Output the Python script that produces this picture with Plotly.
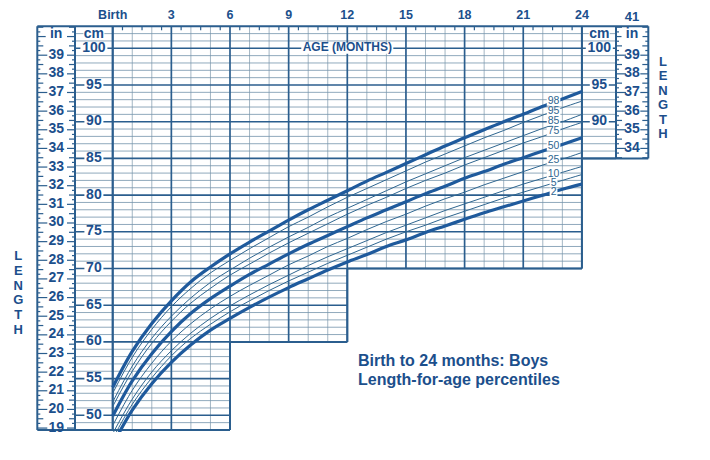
import plotly.graph_objects as go

# ---------------- data ----------------
months = list(range(25))
percentile_labels = ["98", "95", "85", "75", "50", "25", "10", "5", "2"]
p98 = [53.8, 58.7, 62.5, 65.6, 68.2, 70.2, 72.0, 73.6, 75.1, 76.6, 78.0, 79.3, 80.6, 81.9, 83.1, 84.3, 85.5, 86.7, 87.8, 88.9, 90.0, 91.0, 92.1, 93.1, 94.1]
p95 = [53.0, 57.9, 61.7, 64.8, 67.3, 69.4, 71.1, 72.7, 74.2, 75.7, 77.0, 78.4, 79.7, 80.9, 82.1, 83.3, 84.5, 85.6, 86.7, 87.8, 88.8, 89.9, 90.9, 91.9, 92.8]
p85 = [51.8, 56.7, 60.5, 63.5, 66.0, 68.1, 69.8, 71.4, 72.9, 74.3, 75.6, 77.0, 78.2, 79.4, 80.6, 81.8, 82.9, 84.0, 85.1, 86.1, 87.1, 88.1, 89.1, 90.0, 91.0]
p75 = [51.2, 56.0, 59.8, 62.8, 65.3, 67.3, 69.1, 70.6, 72.1, 73.5, 74.8, 76.1, 77.4, 78.6, 79.7, 80.9, 82.0, 83.0, 84.1, 85.1, 86.1, 87.1, 88.0, 89.0, 89.9]
p50 = [49.9, 54.7, 58.4, 61.4, 63.9, 65.9, 67.6, 69.2, 70.6, 72.0, 73.3, 74.5, 75.7, 76.9, 78.0, 79.1, 80.2, 81.2, 82.3, 83.2, 84.2, 85.1, 86.0, 86.9, 87.8]
p25 = [48.6, 53.4, 57.1, 60.1, 62.5, 64.5, 66.2, 67.7, 69.1, 70.5, 71.7, 73.0, 74.1, 75.3, 76.4, 77.4, 78.5, 79.5, 80.4, 81.4, 82.3, 83.2, 84.1, 84.9, 85.8]
p10 = [47.5, 52.2, 55.9, 58.8, 61.2, 63.2, 64.9, 66.4, 67.8, 69.1, 70.4, 71.6, 72.7, 73.8, 74.9, 75.9, 76.9, 77.9, 78.8, 79.7, 80.6, 81.5, 82.3, 83.1, 83.9]
p5 = [46.8, 51.5, 55.1, 58.1, 60.5, 62.4, 64.1, 65.6, 67.0, 68.3, 69.5, 70.7, 71.8, 72.9, 74.0, 75.0, 75.9, 76.9, 77.8, 78.7, 79.6, 80.4, 81.2, 82.0, 82.8]
p2 = [46.0, 50.7, 54.3, 57.2, 59.6, 61.6, 63.2, 64.7, 66.1, 67.4, 68.6, 69.8, 70.9, 71.9, 73.0, 73.9, 74.9, 75.8, 76.7, 77.6, 78.4, 79.2, 80.0, 80.8, 81.5]
series = [p98, p95, p85, p75, p50, p25, p10, p5, p2]
heavy_percentiles = ["98", "50", "2"]

month_ticks = [0, 3, 6, 9, 12, 15, 18, 21, 24]
month_tick_labels = ["Birth", "3", "6", "9", "12", "15", "18", "21", "24"]
cm_ticks_left = [100, 95, 90, 85, 80, 75, 70, 65, 60, 55, 50]
cm_ticks_right = [100, 95, 90]
in_ticks_left = [39, 38, 37, 36, 35, 34, 33, 32, 31, 30, 29, 28, 27, 26, 25, 24, 23, 22, 21, 20, 19]
in_ticks_right = [39, 38, 37, 36, 35, 34]
in_top_right = 41
title_lines = ["Birth to 24 months: Boys", "Length-for-age percentiles"]
axis_word = "LENGTH"

# ---------------- geometry helpers ----------------
PXM = 19.55      # px per month
X0PX = 112.7     # px of birth line
PXC = 7.34       # px per cm
Y100PX = 48.3    # px of 100 cm line
IN2CM = 2.54


def mx(px):
    return (px - X0PX) / PXM


def cy(py):
    return 100 - (py - Y100PX) / PXC


X_IN_L, X_CM_L = mx(37.3), mx(75.0)
X_CM_R, X_IN_R = mx(616.0), mx(648.3)
TOP, BOT = 103, 48

BLUE = "#2b5e8e"
TXT = "#1c4f8c"
MINOR_H = "#7393ab"
MINOR_V = "#a3b6c4"
CURVE = "#1f5a9c"
THIN = "#2f6690"
FONT = "Liberation Sans, Arial, sans-serif"

# pixel rows of the inline percentile labels (label column, spread for legibility)
PCT_LABEL_ROWS = [101.7, 111.7, 121.7, 131.7, 146.7, 160.0, 174.3, 183.3, 192.3]


def seg_trace(segs, color, width):
    xs, ys = [], []
    for x0, y0, x1, y1 in segs:
        xs += [x0, x1, None]
        ys += [y0, y1, None]
    return go.Scatter(x=xs, y=ys, mode="lines", line=dict(color=color, width=width),
                      hoverinfo="skip", showlegend=False)


def right_end(c):
    if c >= 85:
        return X_CM_R
    if c >= 70:
        return 24
    if c >= 60:
        return 12
    return 6


def seg_bottom(m):
    if m <= 6:
        return BOT
    if m <= 12:
        return 60
    return 70


fig = go.Figure()

# grid lines
minor_h, major_h, minor_v, major_v = [], [], [], []
for c in range(BOT, TOP):
    s = (X_CM_L, c, right_end(c), c)
    (major_h if c % 5 == 0 else minor_h).append(s)
for m in months:
    s = (m, seg_bottom(m), m, TOP)
    (major_v if m % 3 == 0 else minor_v).append(s)

fig.add_trace(seg_trace(minor_v, MINOR_V, 1))
fig.add_trace(seg_trace(minor_h, MINOR_H, 0.8))
fig.add_trace(seg_trace(major_v, BLUE, 1.7))
fig.add_trace(seg_trace(major_h, BLUE, 1.6))

borders = [
    (X_IN_L, BOT, X_IN_L, TOP), (X_CM_L, BOT, X_CM_L, TOP), (0, BOT, 0, TOP),
    (X_IN_L, TOP, X_IN_R, TOP), (X_IN_L, BOT, 6, BOT),
    (6, BOT, 6, 60), (6, 60, 12, 60), (12, 60, 12, 70), (12, 70, 24, 70),
    (24, 70, 24, TOP), (24, 85, X_IN_R, 85), (X_CM_R, 85, X_CM_R, TOP),
    (X_IN_R, 85, X_IN_R, TOP),
]
fig.add_trace(seg_trace(borders, BLUE, 2))

# inch column ticks + top half-month ticks
ticks = []


def inch_ticks(x0, x1, lo_cm, hi_cm):
    k0 = int(lo_cm / IN2CM * 4) + 1
    k1 = int(hi_cm / IN2CM * 4)
    for k in range(k0, k1 + 1):
        y = k / 4 * IN2CM
        if k % 4 == 0:
            ll, rl = 10, 8
        elif k % 2 == 0:
            ll, rl = 6, 6
        else:
            ll, rl = 3, 3
        ticks.append((x0, y, x0 + ll / PXM, y))
        ticks.append((x1 - rl / PXM, y, x1, y))


inch_ticks(X_IN_L, X_CM_L, BOT, TOP)
inch_ticks(X_CM_R, X_IN_R, 85, TOP)
for m in months[:-1]:
    ticks.append((m + 0.5, TOP, m + 0.5, TOP - 4 / PXC))
fig.add_trace(seg_trace(ticks, BLUE, 1.2))

# percentile curves (thin first, heavy on top)
for lab, vals in zip(percentile_labels, series):
    if lab not in heavy_percentiles:
        fig.add_trace(go.Scatter(x=months, y=vals, mode="lines", line=dict(color=THIN, width=1, shape="spline"),
                                 hoverinfo="skip", showlegend=False, name=lab))
for lab, vals in zip(percentile_labels, series):
    if lab in heavy_percentiles:
        fig.add_trace(go.Scatter(x=months, y=vals, mode="lines", line=dict(color=CURVE, width=3.2, shape="spline"),
                                 hoverinfo="skip", showlegend=False, name=lab))

# ---------------- labels ----------------
boxes_x, boxes_y = [], []


def add_box(xc, yc, wpx, hpx):
    dx, dy = wpx / 2 / PXM, hpx / 2 / PXC
    boxes_x.extend([xc - dx, xc + dx, xc + dx, xc - dx, xc - dx, None])
    boxes_y.extend([yc - dy, yc - dy, yc + dy, yc + dy, yc - dy, None])


texts = []  # (x, y, text, size, bold, color, position)

xc_cm_l, xc_cm_r = mx(93.9), mx(599.3)
xc_in_l, xc_in_r = mx(56.2), mx(632.0)

for v in cm_ticks_left:
    add_box(xc_cm_l, v, 8.0 * len(str(v)) + 3, 11)
    texts.append((xc_cm_l, v, str(v), 14, True, TXT, "middle center"))
for v in cm_ticks_right:
    add_box(xc_cm_r, v, 8.0 * len(str(v)) + 3, 11)
    texts.append((xc_cm_r, v, str(v), 14, True, TXT, "middle center"))
for v in in_ticks_left:
    texts.append((xc_in_l, v * IN2CM, str(v), 14, True, TXT, "middle center"))
for v in in_ticks_right:
    texts.append((xc_in_r, v * IN2CM, str(v), 14, True, TXT, "middle center"))
texts.append((xc_in_r, in_top_right * IN2CM, str(in_top_right), 13, True, TXT, "middle center"))

unit_y = cy(34)
for xc, word in [(xc_cm_l, "cm"), (xc_cm_r, "cm"), (xc_in_l, "in"), (xc_in_r, "in")]:
    add_box(xc, unit_y, 8.5 * len(word) + 4, 11)
    texts.append((xc, unit_y, word, 14, True, TXT, "middle center"))

for m, lab in zip(month_ticks, month_tick_labels):
    texts.append((m, cy(16), lab, 12.5, True, TXT, "middle center"))

add_box(12, 100, 92, 11)
texts.append((12, 100, "AGE (MONTHS)", 12, True, TXT, "middle center"))

lab_m = 22.55
for lab, row in zip(percentile_labels, PCT_LABEL_ROWS):
    yv = cy(row)
    add_box(lab_m, yv, 5.8 * len(lab) + 2, 8)
    texts.append((lab_m, yv, lab, 10.5, False, THIN, "middle center"))

for i, ch in enumerate(axis_word):
    texts.append((mx(18.3), cy(256.7 + 14.8 * i), ch, 13, True, TXT, "middle center"))
    texts.append((mx(663.0), cy(62.3 + 14.5 * i), ch, 13, True, TXT, "middle center"))

for i, line in enumerate(title_lines):
    texts.append((mx(358.0), cy(361.7 + 19.0 * i), line, 16, True, TXT, "middle right"))

fig.add_trace(go.Scatter(x=boxes_x, y=boxes_y, mode="lines", fill="toself", fillcolor="white",
                         line=dict(width=0, color="white"), hoverinfo="skip", showlegend=False))

# group texts by style
groups = {}
for x, y, t, size, bold, color, pos in texts:
    groups.setdefault((size, bold, color, pos), []).append((x, y, t))
for (size, bold, color, pos), items in groups.items():
    fig.add_trace(go.Scatter(
        x=[i[0] for i in items], y=[i[1] for i in items], text=[i[2] for i in items],
        mode="text", textposition=pos, cliponaxis=True,
        textfont=dict(family=FONT, size=size, color=color, weight="bold" if bold else "normal"),
        hoverinfo="skip", showlegend=False))

fig.update_layout(
    width=710, height=460,
    margin=dict(l=0, r=0, t=0, b=28),
    paper_bgcolor="white", plot_bgcolor="white",
    showlegend=False,
    xaxis=dict(range=[mx(0), mx(710)], visible=False, fixedrange=True),
    yaxis=dict(range=[cy(432), cy(0)], visible=False, fixedrange=True),
)

fig.write_html("out.html", config={"displayModeBar": False},
               post_script="document.body.style.margin='0';")
